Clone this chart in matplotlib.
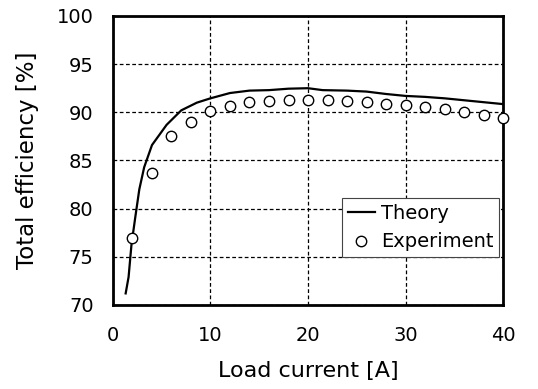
import matplotlib
matplotlib.use("Agg")
import matplotlib.pyplot as plt

plt.rcParams['font.family'] = ['DejaVu Sans']

theory_x = [1.3, 1.6, 1.9, 2.3, 2.7, 3.2, 4.0, 5.5, 7.0, 8.6, 10, 12, 14, 16, 18, 20, 21.5, 24, 26, 28, 30, 32, 34, 36, 38, 40]
theory_y = [71.2, 72.9, 76.3, 79.2, 82.0, 84.3, 86.6, 88.7, 90.2, 91.0, 91.45, 92.0, 92.25, 92.3, 92.45, 92.5, 92.3, 92.25, 92.15, 91.9, 91.7, 91.6, 91.45, 91.25, 91.05, 90.85]

exp_x = [2, 4, 6, 8, 10, 12, 14, 16, 18, 20, 22, 24, 26, 28, 30, 32, 34, 36, 38, 40]
exp_y = [77.0, 83.7, 87.5, 89.0, 90.1, 90.65, 91.1, 91.15, 91.25, 91.3, 91.25, 91.15, 91.05, 90.9, 90.75, 90.6, 90.3, 90.05, 89.7, 89.45]

x_ticks = [0, 10, 20, 30, 40]
y_ticks = [70, 75, 80, 85, 90, 95, 100]

fig = plt.figure(figsize=(5.38, 3.89), dpi=100)
ax = fig.add_axes([0.210, 0.216, 0.725, 0.743])

ax.plot(theory_x, theory_y, color='black', linewidth=1.6, label='Theory', zorder=3)
ax.plot(exp_x, exp_y, linestyle='none', marker='o', markersize=7.5,
        markerfacecolor='white', markeredgecolor='black', markeredgewidth=1.0,
        label='Experiment', zorder=4, clip_on=False)

ax.set_xlim(0, 40)
ax.set_ylim(70, 100)
ax.set_xticks(x_ticks)
ax.set_yticks(y_ticks)
ax.tick_params(axis='x', length=0, labelsize=14, pad=15)
ax.tick_params(axis='y', length=0, labelsize=14, pad=14)
ax.grid(True, color='black', linestyle=(0, (3, 2)), linewidth=0.9)
for s in ax.spines.values():
    s.set_linewidth(2.0)

ax.set_xlabel('Load current [A]', fontsize=16, labelpad=12)
ax.set_ylabel('Total efficiency [%]', fontsize=16.5, labelpad=13)

leg = ax.legend(loc='lower right', bbox_to_anchor=(0.99, 0.165), fontsize=14,
                frameon=True, fancybox=False, framealpha=1, edgecolor='#444444',
                handlelength=1.4, handletextpad=0.3, borderpad=0.3, labelspacing=0.5,
                borderaxespad=0.0)
leg.get_frame().set_linewidth(0.8)

fig.savefig('out.png', dpi=100)
